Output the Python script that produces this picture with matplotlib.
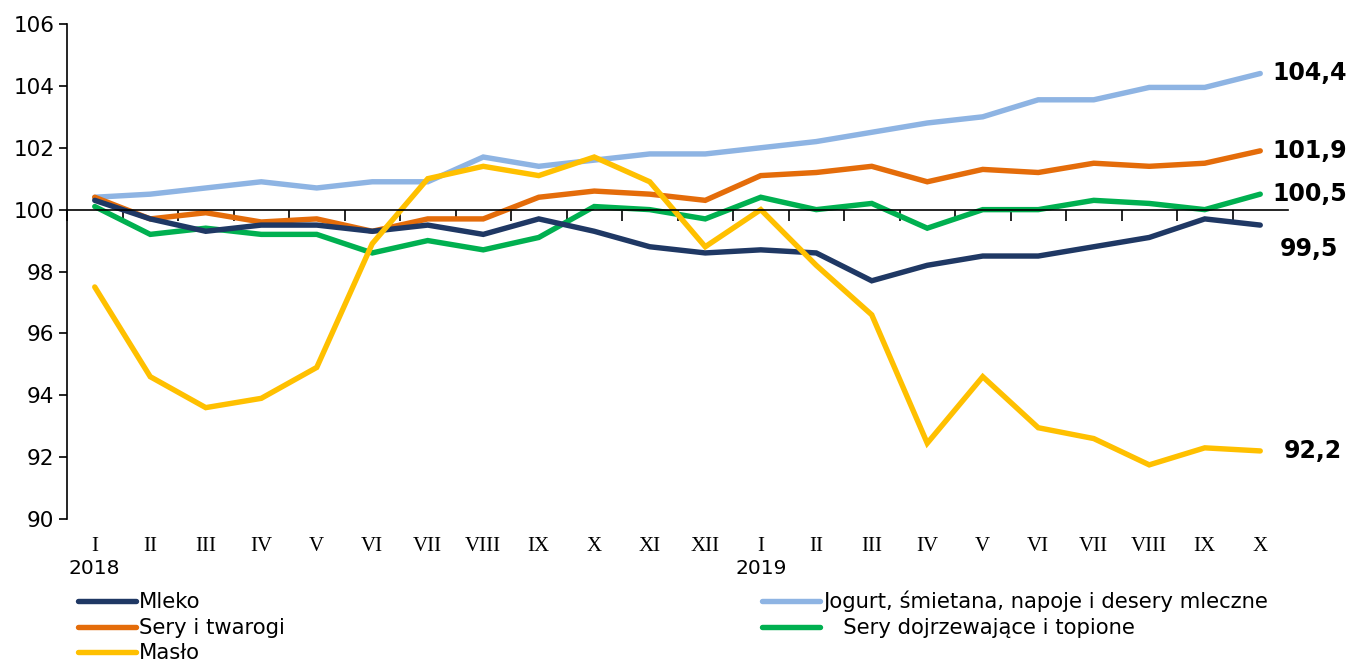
import matplotlib
matplotlib.use("Agg")
import matplotlib.pyplot as plt
from matplotlib.transforms import blended_transform_factory

months = ["I", "II", "III", "IV", "V", "VI", "VII", "VIII", "IX", "X", "XI", "XII",
          "I", "II", "III", "IV", "V", "VI", "VII", "VIII", "IX", "X"]
years = {0: "2018", 12: "2019"}

mleko = [100.3, 99.7, 99.3, 99.5, 99.5, 99.3, 99.5, 99.2, 99.7, 99.3, 98.8, 98.6,
         98.7, 98.6, 97.7, 98.2, 98.5, 98.5, 98.8, 99.1, 99.7, 99.5]
jogurt = [100.4, 100.5, 100.7, 100.9, 100.7, 100.9, 100.9, 101.7, 101.4, 101.6, 101.8, 101.8,
          102.0, 102.2, 102.5, 102.8, 103.0, 103.55, 103.55, 103.95, 103.95, 104.4]
sery_tw = [100.4, 99.7, 99.9, 99.6, 99.7, 99.3, 99.7, 99.7, 100.4, 100.6, 100.5, 100.3,
           101.1, 101.2, 101.4, 100.9, 101.3, 101.2, 101.5, 101.4, 101.5, 101.9]
sery_dz = [100.1, 99.2, 99.4, 99.2, 99.2, 98.6, 99.0, 98.7, 99.1, 100.1, 100.0, 99.7,
           100.4, 100.0, 100.2, 99.4, 100.0, 100.0, 100.3, 100.2, 100.0, 100.5]
maslo = [97.5, 94.6, 93.6, 93.9, 94.9, 98.9, 101.0, 101.4, 101.1, 101.7, 100.9, 98.8,
         100.0, 98.2, 96.6, 92.45, 94.6, 92.95, 92.6, 91.75, 92.3, 92.2]

series = [
    ("Mleko", mleko, "#1F3864"),
    ("Sery i twarogi", sery_tw, "#E46C0A"),
    ("Masło", maslo, "#FFC000"),
    ("Jogurt, śmietana, napoje i desery mleczne", jogurt, "#8EB4E3"),
    ("   Sery dojrzewające i topione", sery_dz, "#00B050"),
]
draw_order = [3, 1, 4, 0, 2]
end_labels = ["104,4", "101,9", "100,5", "99,5", "92,2"]
end_values = [jogurt[-1], sery_tw[-1], sery_dz[-1], mleko[-1], maslo[-1]]
end_offsets = [(9, 0), (9, 0), (9, 0), (14, -17), (17, 0)]

W, H = 1351, 663
fig = plt.figure(figsize=(W / 100, H / 100), dpi=100)
ax = fig.add_axes([67 / W, 1 - 519 / H, (1288 - 67) / W, (519 - 24) / H])

x = list(range(len(months)))
handles = {}
for i in draw_order:
    name, vals, col = series[i]
    h, = ax.plot(x, vals, color=col, lw=3.9, solid_capstyle="round",
                 solid_joinstyle="miter", label=name)
    handles[i] = h

ax.set_xlim(-0.5, len(months) - 0.5)
ax.set_ylim(90, 106)
ax.set_yticks(range(90, 107, 2))
ax.tick_params(axis="y", direction="out", length=6, width=1.2, labelsize=15.5, pad=3)
for lab in ax.get_yticklabels():
    lab.set_fontfamily("DejaVu Sans")

for s in ["top", "right"]:
    ax.spines[s].set_visible(False)
ax.spines["left"].set_linewidth(1.2)
ax.spines["bottom"].set_position(("data", 100))
ax.spines["bottom"].set_linewidth(1.2)
ax.set_xticks([k + 0.5 for k in range(len(months) - 1)] + [-0.5])
ax.set_xticklabels([])
ax.tick_params(axis="x", direction="out", length=8, width=1.2)

tr = blended_transform_factory(ax.transData, ax.transAxes)
for k, m in enumerate(months):
    ax.text(k, -0.056, m, transform=tr, ha="center", va="center",
            fontsize=15, family="Liberation Serif")
for k, yv in years.items():
    ax.text(k, -0.1, yv, transform=tr, ha="center", va="center",
            fontsize=14.5, family="DejaVu Sans")

for lab, v, off in zip(end_labels, end_values, end_offsets):
    ax.annotate(lab, xy=(x[-1], v), xytext=off, textcoords="offset points",
                ha="left", va="center", fontsize=17, fontweight="bold",
                family="DejaVu Sans", annotation_clip=False)

leg = fig.legend([handles[i] for i in range(5)], [series[i][0] for i in range(5)],
                 loc="upper left", bbox_to_anchor=(78 / W, 1 - 591 / H), ncol=2,
                 frameon=False, fontsize=15.2, handlelength=2.75, handletextpad=0.15,
                 columnspacing=22.6, labelspacing=0.26, borderpad=0, borderaxespad=0)
for t in leg.get_texts():
    t.set_fontfamily("DejaVu Sans")

fig.savefig("out.png", dpi=100)
